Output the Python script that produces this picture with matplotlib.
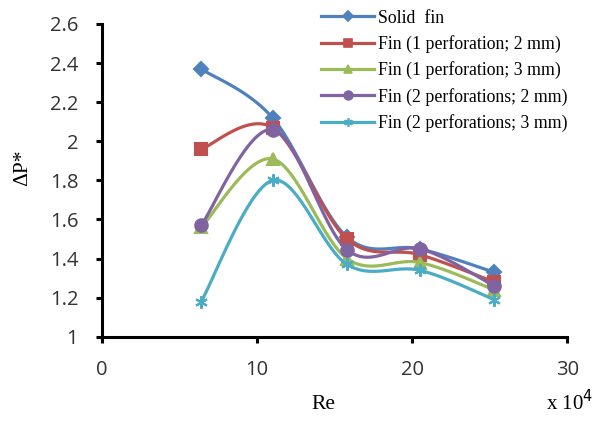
import numpy as np
import matplotlib
matplotlib.use('Agg')
import matplotlib.pyplot as plt

# Reynolds number (x 10^4) and dimensionless pressure drop
re = [6.4, 11.0, 15.8, 20.5, 25.3]
solid_fin = [2.37, 2.12, 1.51, 1.45, 1.33]
fin_1p_2mm = [1.96, 2.07, 1.50, 1.42, 1.28]
fin_1p_3mm = [1.56, 1.91, 1.40, 1.38, 1.24]
fin_2p_2mm = [1.57, 2.06, 1.445, 1.45, 1.26]
fin_2p_3mm = [1.18, 1.80, 1.37, 1.34, 1.19]

labels = ['Solid  fin', 'Fin (1 perforation; 2 mm)', 'Fin (1 perforation; 3 mm)',
          'Fin (2 perforations; 2 mm)', 'Fin (2 perforations; 3 mm)']
colors = ['#4F81BD', '#C0504D', '#9BBB59', '#8064A2', '#4BACC6']
markers = ['D', 's', '^', 'o', (6, 2, 0)]
msizes = [7, 9, 9, 9, 9]


def smooth_curve(x, y, sx=15.5, sy=195.6, n=30):
    """Excel style smoothed line: cubic Bezier through the points (Catmull-Rom
    tangents), computed in pixel-like units so the shape matches the screen."""
    p = np.column_stack([np.asarray(x) * sx, np.asarray(y) * sy])
    pts = np.vstack([p[0], p, p[-1]])
    out = []
    t = np.linspace(0, 1, n)[:, None]
    for i in range(1, len(pts) - 2):
        p0, p3 = pts[i], pts[i + 1]
        c1 = p0 + (pts[i + 1] - pts[i - 1]) / 6.0
        c2 = p3 - (pts[i + 2] - pts[i]) / 6.0
        seg = ((1 - t) ** 3) * p0 + 3 * ((1 - t) ** 2) * t * c1 + 3 * (1 - t) * t ** 2 * c2 + t ** 3 * p3
        out.append(seg if i == 1 else seg[1:])
    out = np.vstack(out)
    return out[:, 0] / sx, out[:, 1] / sy


fig = plt.figure(figsize=(6.1, 4.21), dpi=100)
ax = fig.add_axes([0.167, 0.2, 0.763, 0.743])

series = [solid_fin, fin_1p_2mm, fin_1p_3mm, fin_2p_2mm, fin_2p_3mm]
handles = []
for ys, lab, c, m, ms in zip(series, labels, colors, markers, msizes):
    xs, yy = smooth_curve(re, ys)
    ax.plot(xs, yy, '-', color=c, lw=2.3, clip_on=False)
    ax.plot(re, ys, linestyle='none', marker=m, color=c, markersize=ms,
            markeredgewidth=1.5, clip_on=False)
    h, = ax.plot([], [], '-', color=c, lw=2.3, marker=m, markersize=ms * 0.7,
                 markeredgewidth=1.2)
    handles.append(h)

ax.set_xlim(0, 30)
ax.set_ylim(1, 2.6)
ax.set_xticks([0, 10, 20, 30])
ax.set_yticks(np.arange(1, 2.61, 0.2))
ax.set_yticklabels(['1', '1.2', '1.4', '1.6', '1.8', '2', '2.2', '2.4', '2.6'])

for side in ['top', 'right']:
    ax.spines[side].set_visible(False)
for side in ['left', 'bottom']:
    ax.spines[side].set_linewidth(2.2)
ax.tick_params(direction='out', length=4, width=2.2, labelsize=14.5)
ax.tick_params(axis='y', pad=13)
ax.tick_params(axis='x', pad=13)
for lab in ax.get_xticklabels() + ax.get_yticklabels():
    lab.set_family('Open Sans')
    lab.set_color('#333333')

ax.set_xlabel('Re', family='Liberation Serif', fontsize=15.5)
ax.set_ylabel('ΔP*', family='Liberation Serif', fontsize=15.5)
ax.xaxis.set_label_coords(0.475, -0.217, transform=ax.transAxes)
ax.xaxis.label.set_va('center')
ax.yaxis.set_label_coords(-0.15, 0.54)
fig.text(0.933, 0.043, 'x 10$^4$', family='Liberation Serif', fontsize=15,
         ha='center', va='center')

fig.legend(handles=handles, labels=labels, loc='upper left',
           bbox_to_anchor=(0.5, 1.015), frameon=False,
           prop={'family': 'Liberation Serif', 'size': 12.8},
           handlelength=3.0, handletextpad=0.2, labelspacing=0.47)

fig.savefig('out.png', dpi=100)
